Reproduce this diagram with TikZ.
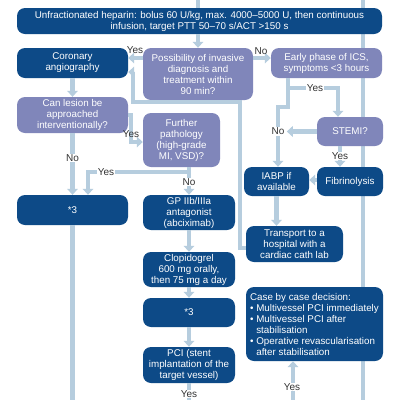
\documentclass[tikz,border=0pt]{standalone}
\usepackage{fontspec}
\setmainfont{Liberation Sans}
\usetikzlibrary{arrows.meta}
\definecolor{dblue}{HTML}{0D4A87}
\definecolor{lav}{HTML}{8086BA}
\definecolor{lline}{HTML}{B6CDDE}
\begin{document}
\begin{tikzpicture}[x=1pt,y=-1pt,
  box/.style={rounded corners=8pt, text=white, font=\fontsize{9.8}{11}\selectfont, align=center, inner sep=0pt},
  dbox/.style={box, fill=dblue},
  lbox/.style={box, fill=lav},
  conn/.style={draw=lline, line width=4.2pt},
  arr/.style={conn, -{Triangle[width=10.5pt,length=6pt]}},
  lab/.style={fill=white, text=black!80, font=\fontsize{10}{11}\selectfont, inner sep=1pt}]
\useasboundingbox (0,0) rectangle (400,400);
\fill[white] (0,0) rectangle (400,400);
% long right line (behind boxes)
\coordinate (r0) at (363,0);
\coordinate (r1) at (363,400);
\draw[conn] (r0) -- (r1);
% nodes
\node[dbox, minimum width=365, minimum height=26] (top) at (199.5,21)
  {Unfractionated heparin: bolus 60 U/kg, max. 4000–5000 U, then continuous\\infusion, target PTT 50–70 s/ACT >150 s};
\node[lbox, minimum width=110, minimum height=52] (poss) at (198,74)
  {Possibility of invasive\\diagnosis and\\treatment within\\90 min?};
\node[dbox, minimum width=111, minimum height=30] (cor) at (72.5,63) {Coronary\\angiography};
\node[lbox, minimum width=111, minimum height=30] (early) at (326.5,63) {Early phase of ICS,\\symptoms <3 hours};
\node[lbox, minimum width=111, minimum height=36] (can) at (72.5,115) {Can lesion be\\approached\\interventionally?};
\node[lbox, minimum width=77, minimum height=54] (further) at (181.5,140) {Further\\pathology\\(high-grade\\MI, VSD)?};
\node[lbox, minimum width=66, minimum height=29] (stemi) at (350,131.5) {STEMI?};
\node[dbox, minimum width=111, minimum height=30] (star1) at (72.5,210) {*3};
\node[dbox, minimum width=92, minimum height=35] (gp) at (189,212.5) {GP IIb/IIIa\\antagonist\\(abciximab)};
\node[dbox, minimum width=65, minimum height=29] (iabp) at (276.5,181.5) {IABP if\\available};
\node[dbox, minimum width=66, minimum height=29] (fib) at (350,181.5) {Fibrinolysis};
\node[dbox, minimum width=97, minimum height=36] (transport) at (294.5,244) {Transport to a\\hospital with a\\cardiac cath lab};
\node[dbox, minimum width=92, minimum height=35] (clop) at (189,269.5) {Clopidogrel\\600 mg orally,\\then 75 mg a day};
\node[dbox, minimum width=92, minimum height=29] (star2) at (189,312.5) {*3};
\node[dbox, minimum width=92, minimum height=36] (pci) at (189,365) {PCI (stent\\implantation of the\\target vessel)};
\node[dbox, minimum width=137, minimum height=74, align=left] (case) at (314.5,324)
  {Case by case decision:\\
   \textbullet\ Multivessel PCI immediately\\
   \textbullet\ Multivessel PCI after\\
   \phantom{\textbullet\ }stabilisation\\
   \textbullet\ Operative revascularisation\\
   \phantom{\textbullet\ }after stabilisation};
% connectors
\coordinate (t0) at (198,0);
\draw[conn] (t0) -- (t0 |- top.north);
\draw[arr] (poss.north |- top.south) -- (poss.north);
\draw[arr] ([yshift=16pt]poss.west) -- ([yshift=5pt]cor.east);
\node[lab, fill=none] (l1) at (135,50) {Yes};
\draw[arr] ([yshift=16pt]poss.east) -- ([yshift=5pt]early.west);
\node[lab, fill=none] (l2) at (261,51) {No};
\coordinate (k1) at (240,102);
\draw[arr] ([yshift=-4pt]transport.west) -| (k1) -| ([yshift=-9pt,xshift=5pt]cor.east) -- ([yshift=-9pt]cor.east);
\draw[arr] (cor.south) -- (can.north);
\draw[arr] (can.east) -- ++(3,0) |- ([yshift=-2pt]further.west);
\node[lab, fill=none] (l3) at (131,134) {Yes};
\draw[arr] (can.south) -- (star1.north);
\node[lab] (l4) at (72.5,158) {No};
\draw[arr] (gp.north |- further.south) -- (gp.north);
\coordinate (j1) at (189,172);
\draw[arr] (j1) -| ([xshift=15.5pt]star1.north);
\node[lab] (l5) at (106,172) {Yes};
\node[lab] (l6) at (189,182) {No};
\coordinate (e1) at ([xshift=-38.5pt]early.south);
\draw[arr] (e1) -- ++(0,10) -| ([xshift=-12pt]stemi.north);
\node[lab] (l7) at (315,88) {Yes};
\draw[arr] (e1) -- ++(0,29) -| ([xshift=1.5pt]iabp.north);
\draw[arr] (stemi.west) -- ++(-30,0);
\node[lab] (l8) at (278,131.5) {No};
\draw[arr] ([xshift=-10pt]stemi.south) -- ([xshift=-10pt]fib.north);
\node[lab] (l9) at (340,156) {Yes};
\draw[arr] ([yshift=1.5pt]fib.west) -- ([yshift=1.5pt]iabp.east);
\draw[arr] (iabp.south) -- (iabp.south |- transport.north);
\coordinate (b1) at (72.5,400);
\draw[conn] (star1.south) -- (b1);
\draw[arr] (gp.south) -- (clop.north);
\draw[arr] (clop.south) -- (star2.north);
\draw[arr] (star2.south) -- (pci.north);
\coordinate (b2) at (189,400);
\draw[conn] (pci.south) -- (b2);
\node[lab] (l10) at (189,394) {Yes};
\coordinate (b3) at (293,400);
\draw[arr] (b3) -- (b3 |- case.south);
\node[lab] (l11) at (292,387) {Yes};
\end{tikzpicture}
\end{document}
